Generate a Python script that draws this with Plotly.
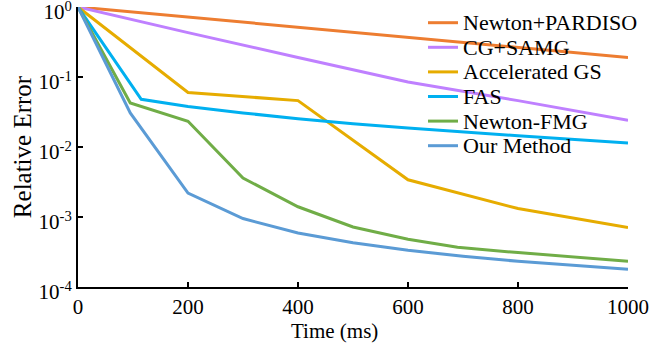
import plotly.graph_objects as go

names = ["Newton+PARDISO", "CG+SAMG", "Accelerated GS", "FAS", "Newton-FMG", "Our Method"]
colors = ["#ED7D31", "#BF80FF", "#E6AC00", "#00B0F0", "#70AD47", "#5B9BD5"]

pardiso_t = [0, 200, 400, 600, 800, 1000]
pardiso_e = [1.0, 0.72, 0.52, 0.37, 0.27, 0.19]

samg_t = [0, 200, 400, 600, 800, 1000]
samg_e = [1.0, 0.43, 0.19, 0.085, 0.046, 0.024]

gs_t = [0, 200, 400, 600, 800, 1000]
gs_e = [1.0, 0.060, 0.046, 0.0034, 0.00132, 0.00071]

fas_t = [0, 115, 200, 300, 400, 500, 600, 700, 800, 1000]
fas_e = [1.0, 0.048, 0.038, 0.0306, 0.0254, 0.0215, 0.0187, 0.0164, 0.0145, 0.0114]

fmg_t = [0, 95, 200, 300, 400, 500, 600, 690, 800, 1000]
fmg_e = [1.0, 0.0425, 0.0233, 0.0036, 0.0014, 0.00072, 0.00048, 0.00037, 0.00031, 0.000233]

ours_t = [0, 95, 200, 300, 400, 500, 600, 700, 800, 1000]
ours_e = [1.0, 0.0306, 0.0022, 0.00095, 0.00059, 0.00043, 0.000334, 0.000275, 0.000233, 0.000179]

ytick_vals = [1e-4, 1e-3, 1e-2, 1e-1, 1]
ytick_text = ["10<sup>-4</sup>", "10<sup>-3</sup>", "10<sup>-2</sup>", "10<sup>-1</sup>", "10<sup>0</sup>"]
xtick_vals = [0, 200, 400, 600, 800, 1000]

series = [(pardiso_t, pardiso_e), (samg_t, samg_e), (gs_t, gs_e),
          (fas_t, fas_e), (fmg_t, fmg_e), (ours_t, ours_e)]

W, H = 667, 349
ML, MR, MT, MB = 78, 39, 7, 62
PW, PH = W - ML - MR, H - MT - MB

fig = go.Figure()
for (t, e), n, c in zip(series, names, colors):
    fig.add_trace(go.Scatter(x=t, y=e, mode="lines", name=n,
                             line=dict(color=c, width=3), cliponaxis=False,
                             showlegend=False))

# legend drawn as paper-anchored key lines and labels (tight row spacing like the reference)
leg_x0, leg_x1, leg_tx = 428, 458, 461
leg_y0, leg_dy = 22.7, 24.6
for i, (n, c) in enumerate(zip(names, colors)):
    py = leg_y0 + i * leg_dy
    yp = 1 - (py - MT) / PH
    fig.add_shape(type="line", xref="paper", yref="paper",
                  x0=(leg_x0 - ML) / PW, x1=(leg_x1 - ML) / PW, y0=yp, y1=yp,
                  line=dict(color=c, width=3))
    fig.add_annotation(xref="paper", yref="paper", x=(leg_tx - ML) / PW, y=yp,
                       xanchor="left", yanchor="middle", text=n, showarrow=False,
                       font=dict(size=22, color="black"))

# x-axis title
fig.add_annotation(xref="paper", yref="paper", x=(334.5 - ML) / PW, y=1 - (331 - MT) / PH,
                   xanchor="center", yanchor="middle", text="Time (ms)", showarrow=False,
                   font=dict(size=21, color="black"))

font = dict(family="Liberation Serif, Times New Roman, serif", size=21, color="black")
fig.update_layout(
    width=W, height=H,
    margin=dict(l=ML, r=MR, t=MT, b=MB),
    paper_bgcolor="white", plot_bgcolor="white",
    font=font,
    showlegend=False,
    xaxis=dict(range=[0, 1000], tickvals=xtick_vals, ticks="inside", ticklen=5,
               tickwidth=2, tickcolor="black", showline=True, linecolor="black",
               linewidth=2, showgrid=False, zeroline=False, automargin=False,
               ticklabeloverflow="allow"),
    yaxis=dict(type="log", range=[-4, 0], tickvals=ytick_vals, ticktext=ytick_text,
               ticks="inside", ticklen=5, tickwidth=2, tickcolor="black",
               showline=True, linecolor="black", linewidth=2, showgrid=False,
               zeroline=False, automargin=False, ticklabeloverflow="allow",
               ticklabelshift=5,
               title=dict(text="Relative Error", standoff=0)),
)
fig.write_html("out.html", post_script="document.body.style.margin='0';",
               config={"displayModeBar": False})
